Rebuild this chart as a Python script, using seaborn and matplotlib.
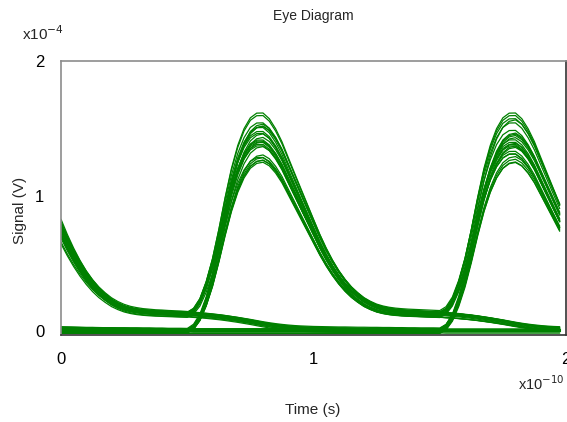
import numpy as np
import pandas as pd
import seaborn as sns
import matplotlib
matplotlib.use("Agg")
import matplotlib.pyplot as plt
from matplotlib.ticker import MultipleLocator, FixedLocator, FixedFormatter

# ---------------- data ----------------
# pulse response, sampled every 0.025 x1e-10 s after the bit edge (units 1e-4 V, nominal peak 1.41)
pulse_step = 0.025
pulse_v = [0.00, 0.03, 0.10, 0.22, 0.38, 0.58, 0.80, 1.00, 1.16, 1.28,
           1.36, 1.40, 1.41, 1.38, 1.32, 1.24, 1.14, 1.04, 0.94, 0.84,
           0.74, 0.64, 0.55, 0.47, 0.40, 0.34, 0.29, 0.25, 0.215, 0.19,
           0.17, 0.157, 0.148, 0.142, 0.138, 0.135, 0.133, 0.131, 0.129, 0.127,
           0.125, 0.122, 0.119, 0.115, 0.110, 0.105, 0.099, 0.092, 0.085, 0.077,
           0.069, 0.060, 0.051, 0.043, 0.036, 0.030, 0.025, 0.021, 0.018, 0.016,
           0.014, 0.013, 0.012, 0.011, 0.010, 0.010, 0.009, 0.008, 0.008, 0.007,
           0.007, 0.006, 0.006, 0.005, 0.005, 0.004, 0.004, 0.003, 0.003, 0.003,
           0.002]
# bit edges inside the 2-UI window (x1e-10 s)
bit_starts = [-1.5, -0.5, 0.5, 1.5]
# bit patterns of the traces (one char per bit edge)
patterns = ["0000", "0001", "0010", "0011", "0100", "0101", "0110", "0111",
            "1000", "1001", "1010", "1011", "1100", "1101", "1110", "1111",
            "0000", "0001", "0010", "0011", "0100", "0101", "0110", "0111",
            "1000", "1001", "1010", "1011", "1100", "1101", "1110", "1111",
            "0000", "0001", "0010", "0011", "0100", "0101", "0110", "0111",
            "1000", "1001", "1010", "1011", "1100", "1101", "1110", "1111"]
# peak amplitude of each trace (1e-4 V)
peaks = [1.30, 1.42, 1.26, 1.50, 1.36, 1.24, 1.47, 1.33,
         1.40, 1.28, 1.53, 1.38, 1.31, 1.45, 1.35, 1.57,
         1.44, 1.27, 1.39, 1.29, 1.52, 1.34, 1.25, 1.48,
         1.37, 1.55, 1.32, 1.43, 1.49, 1.30, 1.41, 1.36,
         1.33, 1.46, 1.51, 1.28, 1.42, 1.39, 1.35, 1.54,
         1.29, 1.45, 1.47, 1.26, 1.50, 1.38, 1.43, 1.31]
# baseline offset of each trace (noise band thickness, 1e-4 V)
offsets = [0.000, 0.012, -0.010, 0.018, -0.004, 0.008, -0.016, 0.004,
           0.014, -0.008, 0.002, -0.014, 0.010, -0.002, 0.016, -0.012,
           0.006, -0.018, 0.012, -0.006, 0.000, 0.020, -0.010, 0.008,
           -0.004, 0.014, -0.016, 0.004, 0.010, -0.008, 0.002, -0.012,
           0.018, -0.002, 0.006, -0.014, 0.012, -0.020, 0.008, 0.000,
           -0.006, 0.016, -0.010, 0.004, -0.016, 0.010, -0.004, 0.014]
n_samples = 80  # time samples from 0 to 1.975 x1e-10 s
x_ticks = [0, 0.5, 1, 1.5, 2]
x_labels = ["0", "", "1", "", "2"]
y_ticks = [0, 1, 2]
y_labels = ["0", "1", "2"]

# ---------------- build traces ----------------
nominal = max(pulse_v)
t_idx = np.arange(0, n_samples)
rows = []
for i, (pat, pk, off) in enumerate(zip(patterns, peaks, offsets)):
    vals = np.full(len(t_idx), off, dtype=float)
    for b, s in zip(pat, bit_starts):
        if b == "1":
            shift = int(round(s / pulse_step))
            for j in t_idx:
                k = j - shift
                if 0 <= k < len(pulse_v):
                    vals[j] += pulse_v[k] * pk / nominal
    for j in t_idx:
        rows.append({"trace": i, "t": j * pulse_step, "v": vals[j]})
df = pd.DataFrame(rows)

# ---------------- plot ----------------
sns.set_theme(style="white")
plt.rcParams["font.family"] = ["Liberation Sans", "DejaVu Sans"]

fig = plt.figure(figsize=(5.67, 4.22), dpi=100)
ax = fig.add_axes([61 / 567, 1 - 335 / 422, (566 - 61) / 567, (335 - 61) / 422])

sns.lineplot(data=df, x="t", y="v", units="trace", estimator=None,
             color="#008000", linewidth=0.9, ax=ax, legend=False)

ax.set_xlim(0, 2)
ax.set_ylim(-0.03, 2)

ax.xaxis.set_major_locator(FixedLocator(x_ticks))
ax.xaxis.set_major_formatter(FixedFormatter(x_labels))
ax.xaxis.set_minor_locator(MultipleLocator(0.1))
ax.yaxis.set_major_locator(FixedLocator(y_ticks))
ax.yaxis.set_major_formatter(FixedFormatter(y_labels))
ax.yaxis.set_minor_locator(MultipleLocator(0.1))

ax.tick_params(axis="both", which="major", direction="out", length=7, width=1,
               colors="#333333", labelsize=12, labelcolor="black", pad=5)
ax.tick_params(axis="both", which="minor", direction="out", length=4, width=1,
               colors="#333333")
ax.tick_params(axis="y", which="both", colors="#555555", labelcolor="black")

for side in ["left", "top"]:
    ax.spines[side].set_color("#8c8c8c")
    ax.spines[side].set_linewidth(1.2)
for side in ["bottom", "right"]:
    ax.spines[side].set_color("#333333")
    ax.spines[side].set_linewidth(1.2)

ax.set_xlabel("")
ax.set_ylabel("")
fig.text(313 / 567, 1 - 410 / 422, "Time (s)", ha="center", va="center", fontsize=11)
fig.text(20 / 567, 1 - 210 / 422, "Signal (V)", ha="center", va="center",
         rotation=90, fontsize=11)
fig.text(313 / 567, 1 - 16 / 422, "Eye Diagram", ha="center", va="center", fontsize=10)
fig.text(22 / 567, 1 - 34 / 422, "x10$^{-4}$", ha="left", va="center", fontsize=11)
fig.text(565 / 567, 1 - 384 / 422, "x10$^{-10}$", ha="right", va="center", fontsize=10.5)

fig.savefig("out.png", dpi=100)
